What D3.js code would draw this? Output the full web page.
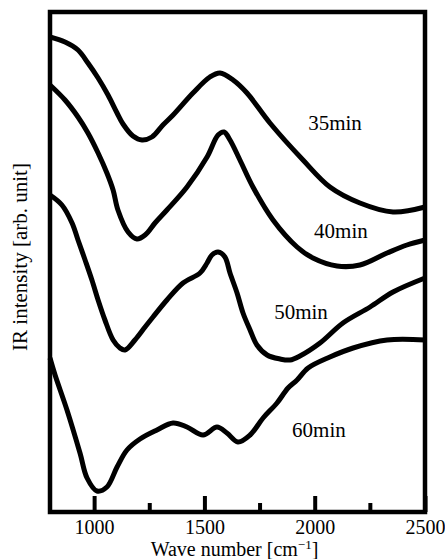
<!DOCTYPE html>
<html>
<head>
<meta charset="utf-8">
<script src="https://cdn.jsdelivr.net/npm/d3@7"></script>
<style>
  body { margin: 0; background: #fff; }
  text { font-family: "Liberation Serif", "Times New Roman", serif; fill: #000; }
</style>
</head>
<body>
<svg id="chart" width="445" height="559"></svg>
<script>
// IR spectra (wave number in cm-1, intensity in arbitrary units)
const wave35 = [800, 868, 927, 972, 1018, 1063, 1104, 1131, 1176, 1217, 1262, 1312, 1358, 1448, 1525, 1571, 1630, 1693, 1797, 1947, 2069, 2205, 2355, 2500];
const ir35   = [95.0, 94.0, 92.4, 89.8, 86.8, 83.4, 79.8, 77.6, 75.2, 74.4, 75.0, 77.4, 79.4, 83.8, 87.0, 87.8, 86.4, 83.8, 77.8, 70.4, 65.0, 61.8, 60.0, 61.0];

const wave40 = [800, 868, 927, 972, 1018, 1058, 1086, 1108, 1154, 1194, 1231, 1276, 1330, 1421, 1512, 1562, 1589, 1616, 1661, 1720, 1811, 1920, 1992, 2101, 2205, 2328, 2418, 2500];
const ir40   = [85.4, 82.4, 79.0, 75.8, 71.8, 67.8, 64.4, 60.4, 56.0, 54.6, 55.4, 57.8, 60.4, 65.0, 71.0, 75.4, 76.0, 74.4, 70.4, 65.0, 58.4, 53.0, 50.8, 49.2, 49.4, 51.8, 53.4, 54.4];

const wave50 = [800, 854, 900, 927, 959, 990, 1018, 1049, 1086, 1117, 1140, 1185, 1231, 1267, 1330, 1403, 1480, 1512, 1534, 1562, 1593, 1616, 1648, 1675, 1707, 1738, 1784, 1843, 1888, 1933, 2024, 2128, 2251, 2355, 2500];
const ir50   = [63.4, 61.4, 57.8, 54.4, 50.4, 46.4, 42.4, 38.4, 34.4, 32.8, 32.4, 34.4, 37.0, 39.0, 42.4, 45.8, 47.8, 49.8, 51.4, 52.0, 51.0, 47.8, 43.8, 39.8, 36.4, 33.4, 31.4, 30.6, 30.4, 31.2, 33.8, 37.8, 41.0, 44.0, 46.8];

const wave60 = [800, 823, 877, 936, 968, 1013, 1058, 1104, 1149, 1208, 1285, 1358, 1421, 1494, 1557, 1602, 1652, 1707, 1766, 1829, 1879, 1920, 1970, 2069, 2174, 2328, 2500];
const ir60   = [30.8, 27.4, 20.4, 11.8, 6.8, 4.2, 5.0, 9.0, 12.4, 14.6, 16.4, 17.8, 17.0, 15.4, 17.0, 15.8, 14.0, 15.4, 18.8, 21.8, 24.8, 26.4, 28.8, 31.0, 32.8, 34.4, 34.4];

const seriesNames = ["35min", "40min", "50min", "60min"];
// label anchor for each series, in data units (wave number, intensity)
const labelWave = [2092, 2119, 1938, 2019];
const labelIr   = [76.4, 54.8, 38.6, 15.0];

const majorTicks = [1000, 1500, 2000, 2500];
const minorTicks = [1250, 1750, 2250];

const svg = d3.select("#chart");
const plotL = 50, plotR = 425, plotT = 12, plotB = 512;

const x = d3.scaleLinear().domain([800, 2500]).range([plotL, plotR]);
const y = d3.scaleLinear().domain([0, 100]).range([plotB, plotT]);

const series = [
  { name: seriesNames[0], pts: d3.zip(wave35, ir35) },
  { name: seriesNames[1], pts: d3.zip(wave40, ir40) },
  { name: seriesNames[2], pts: d3.zip(wave50, ir50) },
  { name: seriesNames[3], pts: d3.zip(wave60, ir60) }
];

const line = d3.line()
  .x(d => x(d[0]))
  .y(d => y(d[1]))
  .curve(d3.curveCatmullRom.alpha(0.5));

svg.append("g")
  .selectAll("path")
  .data(series)
  .enter().append("path")
  .attr("d", d => line(d.pts))
  .attr("fill", "none")
  .attr("stroke", "#000")
  .attr("stroke-width", 5)
  .attr("stroke-linejoin", "round");

// ticks point inward from the bottom edge
const major = svg.append("g")
  .attr("transform", `translate(0,${plotB})`)
  .call(d3.axisBottom(x).tickValues(majorTicks).tickSize(-16).tickFormat(d3.format("d")));
major.select(".domain").remove();
major.selectAll("line").attr("stroke-width", 4);
major.selectAll("text")
  .attr("y", 22).attr("dy", 0)
  .style("font-size", "20px")
  .style("font-family", "'Liberation Serif', serif");

const minor = svg.append("g")
  .attr("transform", `translate(0,${plotB})`)
  .call(d3.axisBottom(x).tickValues(minorTicks).tickSize(-9).tickFormat(""));
minor.select(".domain").remove();
minor.selectAll("line").attr("stroke-width", 4);

// frame
svg.append("rect")
  .attr("x", plotL).attr("y", plotT)
  .attr("width", plotR - plotL).attr("height", plotB - plotT)
  .attr("fill", "none")
  .attr("stroke", "#000")
  .attr("stroke-width", 4.5);

// series labels
svg.append("g")
  .selectAll("text")
  .data(seriesNames)
  .enter().append("text")
  .attr("x", (d, i) => x(labelWave[i]))
  .attr("y", (d, i) => y(labelIr[i]))
  .attr("text-anchor", "middle")
  .style("font-size", "21px")
  .text(d => d);

// axis titles
const xt = svg.append("text")
  .attr("x", (plotL + plotR) / 2 - 3)
  .attr("y", 556)
  .attr("text-anchor", "middle")
  .style("font-size", "20px");
xt.append("tspan").text("Wave number [cm");
xt.append("tspan").attr("dy", -7).style("font-size", "13px").text("\u22121");
xt.append("tspan").attr("dy", 7).text("]");

svg.append("text")
  .attr("transform", "translate(27,257) rotate(-90)")
  .attr("text-anchor", "middle")
  .style("font-size", "21px")
  .text("IR intensity [arb. unit]");
</script>
</body>
</html>
